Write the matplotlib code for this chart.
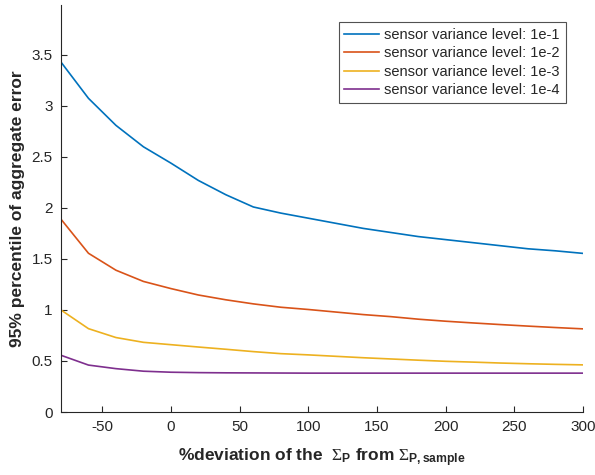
import numpy as np
import matplotlib
matplotlib.use("Agg")
import matplotlib.pyplot as plt

# Data
deviation = [-80, -60, -40, -20, 0, 20, 40, 60, 80, 100, 120, 140, 160, 180,
             200, 220, 240, 260, 280, 300]
err_1e1 = [3.43, 3.075, 2.81, 2.60, 2.44, 2.27, 2.13, 2.01, 1.95, 1.90, 1.85,
           1.80, 1.76, 1.72, 1.69, 1.66, 1.63, 1.60, 1.58, 1.555]
err_1e2 = [1.89, 1.556, 1.39, 1.28, 1.21, 1.147, 1.10, 1.06, 1.027, 1.005,
           0.98, 0.955, 0.935, 0.91, 0.89, 0.873, 0.857, 0.842, 0.828, 0.815]
err_1e3 = [1.00, 0.817, 0.73, 0.683, 0.66, 0.637, 0.615, 0.592, 0.572, 0.56,
           0.546, 0.532, 0.52, 0.508, 0.497, 0.489, 0.48, 0.473, 0.467, 0.462]
err_1e4 = [0.556, 0.46, 0.425, 0.40, 0.39, 0.386, 0.384, 0.383, 0.382, 0.381,
           0.381, 0.381, 0.381, 0.381, 0.381, 0.381, 0.381, 0.381, 0.381, 0.381]
labels = ["sensor variance level: 1e-1", "sensor variance level: 1e-2",
          "sensor variance level: 1e-3", "sensor variance level: 1e-4"]
colors = ["#0072BD", "#D95319", "#EDB120", "#7E2F8E"]

plt.rcParams['font.family'] = ['Liberation Sans', 'DejaVu Sans']
plt.rcParams['axes.unicode_minus'] = False
plt.rcParams['mathtext.fontset'] = 'custom'
plt.rcParams['mathtext.rm'] = 'Liberation Serif'
plt.rcParams['mathtext.it'] = 'Liberation Serif'
plt.rcParams['mathtext.bf'] = 'Liberation Sans:bold'

axis_gray = '#262626'

fig = plt.figure(figsize=(5.95, 4.75), dpi=100)
ax = fig.add_axes([61 / 595, 63 / 475, 522 / 595, 407 / 475])

for series, lab, col in zip([err_1e1, err_1e2, err_1e3, err_1e4], labels, colors):
    ax.plot(deviation, series, color=col, lw=1.2, label=lab)

ax.set_xlim(-80, 300)
ax.set_ylim(0, 3.99)
ax.set_xticks([-50, 0, 50, 100, 150, 200, 250, 300])
ax.set_yticks([0, 0.5, 1, 1.5, 2, 2.5, 3, 3.5])
ax.set_yticklabels(['0', '0.5', '1', '1.5', '2', '2.5', '3', '3.5'])

for side in ['top', 'right']:
    ax.spines[side].set_visible(False)
for side in ['left', 'bottom']:
    ax.spines[side].set_color(axis_gray)
    ax.spines[side].set_linewidth(0.8)
ax.tick_params(direction='in', length=4, width=0.8, colors=axis_gray,
               labelsize=11, labelcolor=axis_gray, pad=6)

ax.set_ylabel('95% percentile of aggregate error', fontsize=12.5,
              fontweight='bold', color=axis_gray, labelpad=5)
ax.set_xlabel(r'%deviation of the  $\Sigma_\mathbf{P}$ from $\Sigma_\mathbf{P,sample}$',
              fontsize=12.5, fontweight='bold', color=axis_gray, labelpad=9)

leg = ax.legend(loc='upper right', bbox_to_anchor=(0.967, 0.958), fontsize=10.5,
                frameon=True, fancybox=False, handlelength=2.4, handletextpad=0.35,
                borderpad=0.4, labelspacing=0.3, borderaxespad=0)
leg.get_frame().set_edgecolor(axis_gray)
leg.get_frame().set_linewidth(0.8)
for t in leg.get_texts():
    t.set_color(axis_gray)

fig.savefig('out.png', dpi=100)
